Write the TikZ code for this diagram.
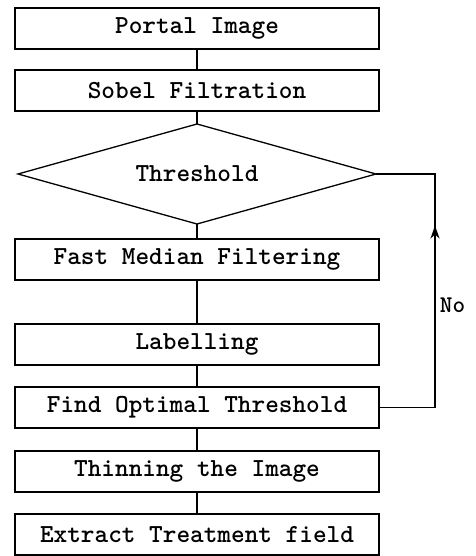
\documentclass[tikz,border=0pt]{standalone}
\usepackage{fontspec}
\usepackage{tikz}
\usetikzlibrary{arrows.meta,positioning,shapes.geometric}
\tikzset{
  line/.style={draw=black,line width=1.3pt},
  stage/.style={line,rectangle,minimum width=364pt,minimum height=41pt,inner sep=0pt,outer sep=0pt,
                font=\fontsize{26}{30}\selectfont\ttfamily\bfseries},
  test/.style={line,diamond,aspect=3.58,minimum width=358pt,minimum height=100pt,inner sep=0pt,
               outer sep=0pt,font=\fontsize{26}{30}\selectfont\ttfamily\bfseries},
  uparrow/.style={line,-{Stealth[length=13pt,width=9pt,inset=4pt]}}
}
\begin{document}
\begin{tikzpicture}[node distance=21pt]
  \useasboundingbox (0,0) rectangle (475pt,-556pt);
  \node[stage] (portal) at (197pt,-28.5pt) {Portal Image};
  \node[stage,below=of portal] (sobel) {Sobel Filtration};
  \node[test,below=13pt of sobel] (thr) {Threshold};
  \node[stage,below=15pt of thr] (median) {Fast Median Filtering};
  \node[stage,below=44pt of median] (label) {Labelling};
  \node[stage,below=22pt of label] (opt) {Find Optimal Threshold};
  \node[stage,below=23pt of opt] (thin) {Thinning the Image};
  \node[stage,below=22pt of thin] (extract) {Extract Treatment field};
  \draw[line] (portal)--(sobel); \draw[line] (sobel)--(thr); \draw[line] (thr)--(median);
  \draw[line] (median)--(label); \draw[line] (label)--(opt); \draw[line] (opt)--(thin);
  \draw[line] (thin)--(extract);
  % loop back to the threshold test, arrow head halfway up
  \draw[line] (opt.east) -- ++(56pt,0) coordinate (turn)
    |- node[pos=.22,right=1pt,font=\fontsize{24}{28}\selectfont\ttfamily\bfseries]{No} (thr.east);
  \draw[uparrow] (turn) -- ++(0,182pt);
\end{tikzpicture}
\end{document}
